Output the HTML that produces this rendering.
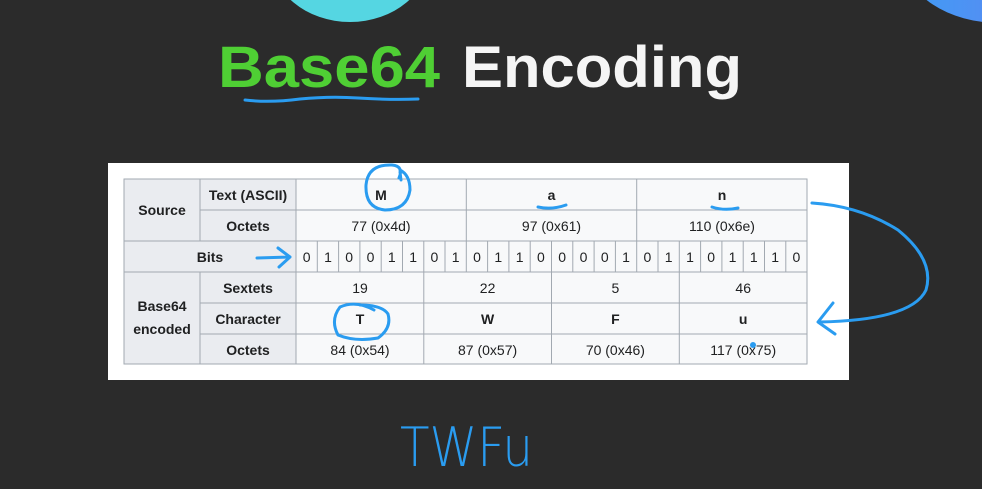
<!DOCTYPE html>
<html><head><meta charset="utf-8"><style>
html,body{margin:0;padding:0;background:#2b2b2b;}
svg{display:block;}
text{font-family:"Liberation Sans",sans-serif;}
</style></head><body>
<svg width="982" height="489" viewBox="0 0 982 489" xmlns="http://www.w3.org/2000/svg">
<defs>
<linearGradient id="bg2" x1="0" x2="1"><stop offset="0" stop-color="#3f9cf5"/><stop offset="1" stop-color="#6b7ff0"/></linearGradient>
</defs>
<rect width="982" height="489" fill="#2b2b2b"/>
<ellipse cx="350" cy="-45" rx="80" ry="67" fill="#55d6e2"/>
<ellipse cx="1000" cy="-40" rx="95" ry="63" fill="url(#bg2)"/>
<text x="218" y="87" font-size="58" font-weight="bold" fill="#4fcf34" textLength="222" lengthAdjust="spacingAndGlyphs">Base64</text>
<text x="462" y="87" font-size="58" font-weight="bold" fill="#f5f5f5" textLength="280" lengthAdjust="spacingAndGlyphs">Encoding</text>
<path d="M245 100 Q270 103 300 99 Q330 96 358 98 Q390 100 418 99" stroke="#2a9cf0" stroke-width="3" fill="none" stroke-linecap="round"/>

<rect x="108" y="163" width="741" height="217" fill="#ffffff"/>
<g stroke="#a2a9b1" stroke-width="1">
<rect x="124" y="179" width="172" height="62" fill="#eaecf0"/>
<rect x="124" y="241" width="172" height="31" fill="#eaecf0"/>
<rect x="124" y="272" width="172" height="92" fill="#eaecf0"/>
<rect x="296" y="179" width="511" height="185" fill="#f8f9fa"/>
<line x1="200" y1="179" x2="200" y2="241"/><line x1="200" y1="272" x2="200" y2="364"/>
<line x1="200" y1="210" x2="807" y2="210"/>
<line x1="124" y1="241" x2="807" y2="241"/>
<line x1="124" y1="272" x2="807" y2="272"/>
<line x1="200" y1="303" x2="807" y2="303"/>
<line x1="200" y1="334" x2="807" y2="334"/>
<line x1="466.3" y1="179" x2="466.3" y2="272"/><line x1="636.7" y1="179" x2="636.7" y2="272"/>
<line x1="423.8" y1="272" x2="423.8" y2="364"/><line x1="551.5" y1="272" x2="551.5" y2="364"/><line x1="679.3" y1="272" x2="679.3" y2="364"/>
<line x1="317.3" y1="241" x2="317.3" y2="272"/><line x1="338.6" y1="241" x2="338.6" y2="272"/><line x1="359.9" y1="241" x2="359.9" y2="272"/><line x1="381.2" y1="241" x2="381.2" y2="272"/><line x1="402.5" y1="241" x2="402.5" y2="272"/><line x1="423.8" y1="241" x2="423.8" y2="272"/><line x1="445" y1="241" x2="445" y2="272"/>
<line x1="487.6" y1="241" x2="487.6" y2="272"/><line x1="508.9" y1="241" x2="508.9" y2="272"/><line x1="530.2" y1="241" x2="530.2" y2="272"/><line x1="551.5" y1="241" x2="551.5" y2="272"/><line x1="572.8" y1="241" x2="572.8" y2="272"/><line x1="594.1" y1="241" x2="594.1" y2="272"/><line x1="615.4" y1="241" x2="615.4" y2="272"/>
<line x1="658" y1="241" x2="658" y2="272"/><line x1="679.3" y1="241" x2="679.3" y2="272"/><line x1="700.6" y1="241" x2="700.6" y2="272"/><line x1="721.9" y1="241" x2="721.9" y2="272"/><line x1="743.2" y1="241" x2="743.2" y2="272"/><line x1="764.5" y1="241" x2="764.5" y2="272"/><line x1="785.8" y1="241" x2="785.8" y2="272"/>
</g>
<g font-size="14" fill="#202122" text-anchor="middle" font-weight="bold">
<text x="162" y="215">Source</text>
<text x="248" y="200">Text (ASCII)</text>
<text x="248" y="231">Octets</text>
<text x="210" y="262">Bits</text>
<text x="162" y="311">Base64</text>
<text x="162" y="334">encoded</text>
<text x="248" y="293">Sextets</text>
<text x="248" y="324">Character</text>
<text x="248" y="355">Octets</text>
<text x="381" y="200">M</text><text x="551.5" y="200">a</text><text x="722" y="200">n</text>
<text x="360" y="324">T</text><text x="487.6" y="324">W</text><text x="615.4" y="324">F</text><text x="743.2" y="324">u</text>
</g>
<g font-size="14" fill="#202122" text-anchor="middle">
<text x="381" y="231">77 (0x4d)</text><text x="551.5" y="231">97 (0x61)</text><text x="722" y="231">110 (0x6e)</text>
<text x="360" y="293">19</text><text x="487.6" y="293">22</text><text x="615.4" y="293">5</text><text x="743.2" y="293">46</text>
<text x="360" y="355">84 (0x54)</text><text x="487.6" y="355">87 (0x57)</text><text x="615.4" y="355">70 (0x46)</text><text x="743.2" y="355">117 (0x75)</text>
<text x="306.6" y="262">0</text><text x="328" y="262">1</text><text x="349.2" y="262">0</text><text x="370.5" y="262">0</text><text x="391.8" y="262">1</text><text x="413.1" y="262">1</text><text x="434.4" y="262">0</text><text x="455.7" y="262">1</text>
<text x="477" y="262">0</text><text x="498.3" y="262">1</text><text x="519.6" y="262">1</text><text x="540.9" y="262">0</text><text x="562.2" y="262">0</text><text x="583.5" y="262">0</text><text x="604.8" y="262">0</text><text x="626" y="262">1</text>
<text x="647.4" y="262">0</text><text x="668.7" y="262">1</text><text x="690" y="262">1</text><text x="711.2" y="262">0</text><text x="732.5" y="262">1</text><text x="753.8" y="262">1</text><text x="775.1" y="262">1</text><text x="796.4" y="262">0</text>
</g>
<g stroke="#2a9cf0" stroke-width="3" fill="none" stroke-linecap="round" stroke-linejoin="round">
<path d="M399 178 Q404 166 392 165 Q368 164 366 185 Q365 208 385 210 Q407 210 410 190 Q410 175 400 170 M400 172 L401 180"/>
<path d="M538 207 Q552 210 566 205"/>
<path d="M712 207 Q724 211 738 208"/>
<path d="M257 258 L290 257 M278 248 L290 257 L279 267"/>
<path d="M374 310 Q356 300 340 307 Q330 320 338 335 Q355 342 378 338 Q392 328 388 314 Q382 305 360 305"/>
<path d="M812 203 Q860 206 898 230 Q935 260 926 290 Q912 320 820 322 M833 303 L818 322 L835 334"/>
</g>
<circle cx="753" cy="345" r="3" fill="#2a9cf0"/>
<text x="400" y="466" font-size="54" fill="#2a9cf0" textLength="133" lengthAdjust="spacingAndGlyphs" style="font-family:'DejaVu Sans ExtraLight','DejaVu Sans',sans-serif;font-weight:200">TWFu</text>
</svg>
</body></html>
